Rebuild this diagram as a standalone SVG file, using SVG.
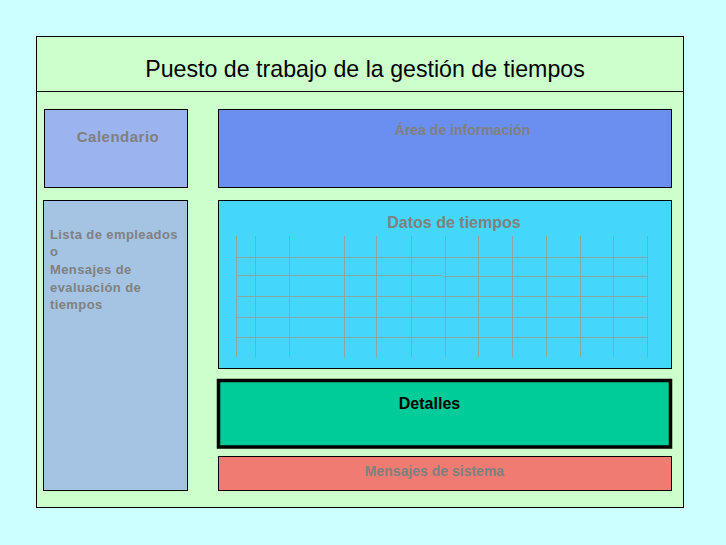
<svg xmlns="http://www.w3.org/2000/svg" width="726" height="545" viewBox="0 0 726 545">
<style>
.box{stroke:#000;stroke-width:1}
.lbl{font-family:"Liberation Sans",Arial,sans-serif;font-weight:bold;fill:#808080}
.grid line{stroke:#9a9a9a;stroke-width:1;stroke-opacity:0.8}
</style>
<rect x="0" y="0" width="726" height="545" fill="#ccffff"/>
<g id="frame">
<rect class="box" x="36.5" y="36.5" width="647" height="471" fill="#ccffcc"/>
<line x1="36.5" y1="91.5" x2="683.5" y2="91.5" stroke="#000"/>
<text x="365" y="77" font-family="'Liberation Sans',Arial,sans-serif" font-size="23.2" text-anchor="middle" fill="#000">Puesto de trabajo de la gestión de tiempos</text>
</g>
<g id="calendario">
<rect class="box" x="44.5" y="109.5" width="143" height="78" fill="#9bb3ef"/>
<text class="lbl" x="118" y="141.5" font-size="15" letter-spacing="0.5" text-anchor="middle">Calendario</text>
</g>
<g id="area-informacion">
<rect class="box" x="218.5" y="109.5" width="453" height="78" fill="#6b8ff0"/>
<text class="lbl" x="462.5" y="135" font-size="14" text-anchor="middle">Área de información</text>
</g>
<g id="lista">
<rect class="box" x="43.5" y="200.5" width="144" height="290" fill="#a5c4e4"/>
<text class="lbl" font-size="13" letter-spacing="0.4">
<tspan x="50" y="238.5">Lista de empleados</tspan>
<tspan x="50" y="255.5">o</tspan>
<tspan x="50" y="274">Mensajes de</tspan>
<tspan x="50" y="291.5">evaluación de</tspan>
<tspan x="50" y="308.5">tiempos</tspan>
</text>
</g>
<g id="datos-tiempos">
<rect class="box" x="218.5" y="200.5" width="453" height="168" fill="#45d6fb"/>
<text class="lbl" x="454" y="227.5" font-size="16" text-anchor="middle">Datos de tiempos</text>
<g class="grid">
<line x1="236.5" y1="236" x2="236.5" y2="357"/>
<line x1="255.5" y1="236" x2="255.5" y2="357"/>
<line x1="289.5" y1="236" x2="289.5" y2="357"/>
<line x1="344.5" y1="236" x2="344.5" y2="357"/>
<line x1="376.5" y1="236" x2="376.5" y2="357"/>
<line x1="411.5" y1="236" x2="411.5" y2="357"/>
<line x1="445.5" y1="236" x2="445.5" y2="357"/>
<line x1="478.5" y1="236" x2="478.5" y2="357"/>
<line x1="512.5" y1="236" x2="512.5" y2="357"/>
<line x1="546.5" y1="236" x2="546.5" y2="357"/>
<line x1="580.5" y1="236" x2="580.5" y2="357"/>
<line x1="613.5" y1="236" x2="613.5" y2="357"/>
<line x1="647.5" y1="236" x2="647.5" y2="357"/>
<line x1="236" y1="257.5" x2="648" y2="257.5"/>
<line x1="236" y1="275.5" x2="442" y2="275.5"/>
<line x1="443" y1="276.5" x2="648" y2="276.5"/>
<line x1="236" y1="296.5" x2="648" y2="296.5"/>
<line x1="236" y1="317.5" x2="648" y2="317.5"/>
<line x1="236" y1="337.5" x2="648" y2="337.5"/>
</g>
</g>
<g id="detalles">
<rect x="218.5" y="380.5" width="452" height="66.5" fill="#00cc99" stroke="#000" stroke-width="3.5"/>
<text x="429.5" y="409" font-family="'Liberation Sans',Arial,sans-serif" font-weight="bold" font-size="16" text-anchor="middle" fill="#000">Detalles</text>
</g>
<g id="mensajes-sistema">
<rect class="box" x="218.5" y="456.5" width="453" height="34" fill="#ef7b73"/>
<text class="lbl" x="434.5" y="476" font-size="14" text-anchor="middle">Mensajes de sistema</text>
</g>
<g id="connectors"></g>
</svg>
